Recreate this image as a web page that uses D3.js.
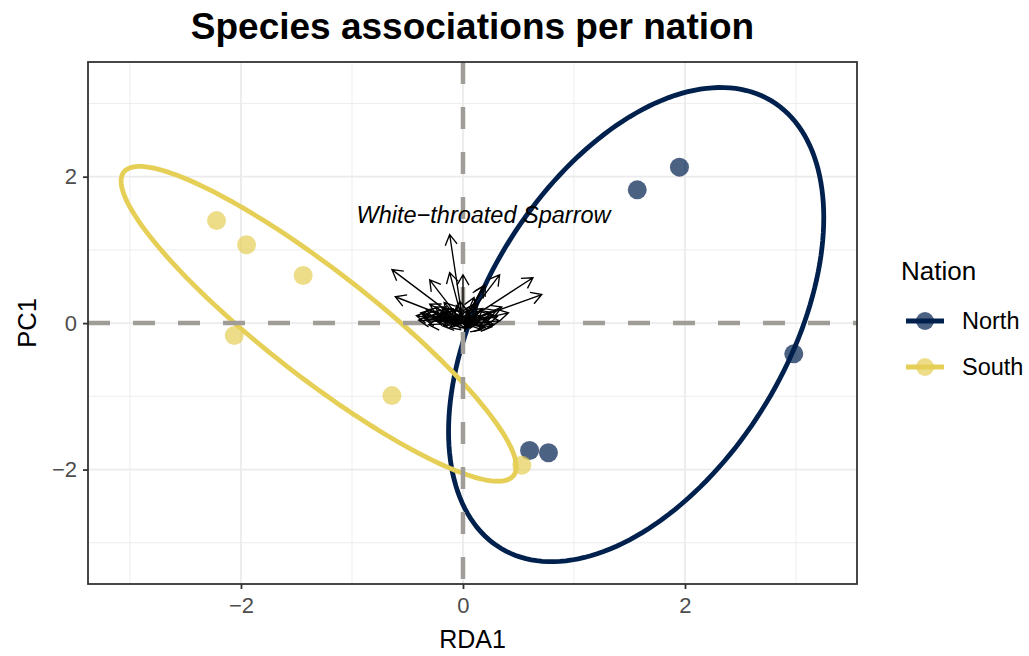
<!DOCTYPE html>
<html>
<head>
<meta charset="utf-8">
<script src="https://cdn.jsdelivr.net/npm/d3@7"></script>
<style>
  body { margin: 0; background: #fff; }
  text { font-family: "Liberation Sans", Arial, sans-serif; }
</style>
</head>
<body>
<div class="chart"></div>
<script>
// site scores
const groups = ['North', 'South'];
const pointGroup = ['North', 'North', 'North', 'North', 'North',
    'South', 'South', 'South', 'South', 'South', 'South'];
const pointX = [1.57, 1.95, 2.98, 0.60, 0.77, -2.22, -1.95, -1.44, -2.06, -0.64, 0.53];
const pointY = [1.82, 2.13, -0.42, -1.74, -1.77, 1.40, 1.07, 0.65, -0.17, -0.99, -1.94];

// ellipse per group: centre + conjugate half-axes
const ellCx = [1.56, -1.30];
const ellCy = [-0.02, -0.01];
const ellA = [1.69, 1.78];
const ellB = [1.46, -1.95];
const ellC = [2.89, 0.905];

// species loadings (arrows from origin)
const loadX = [-0.12, -0.64, -0.61, -0.30, -0.12, 0.00, 0.63, 0.71, 0.33, 0.20, 0.41, 0.18,
    -0.38, -0.35, -0.33, -0.28, -0.25, -0.22, -0.20, -0.17, -0.14, -0.10, -0.08, -0.05,
    -0.03, 0.02, 0.04, 0.07, 0.09, 0.12, 0.15, 0.18, 0.22, 0.25, 0.28, 0.31, 0.35, -0.30,
    0.10, -0.12, 0.20, -0.42,
    -0.40, -0.36, -0.31, -0.26, -0.21, -0.18, -0.15, -0.09, -0.06, 0.03, 0.06, 0.11,
    0.14, 0.17, 0.24, 0.27, 0.30, 0.33, -0.27, -0.23, 0.08, 0.13, -0.19, 0.26];
const loadY = [1.21, 0.73, 0.36, 0.59, 0.69, 0.66, 0.62, 0.39, 0.66, 0.52, 0.14, 0.50,
    0.14, 0.06, 0.18, 0.10, 0.22, 0.03, 0.15, 0.28, 0.08, 0.20, -0.03, 0.12,
    0.30, 0.05, 0.18, -0.05, 0.25, 0.10, 0.02, 0.20, 0.06, 0.15, -0.02, 0.09, 0.22, 0.26,
    0.35, -0.06, -0.06, 0.10,
    0.04, 0.11, -0.02, 0.16, 0.09, -0.04, 0.19, 0.05, 0.24, -0.07, 0.13, -0.03,
    0.16, -0.09, 0.01, 0.11, 0.17, 0.03, 0.07, 0.12, 0.08, 0.27, 0.21, -0.05];

const labelText = ['White\u2212throated Sparrow'];
const labelX = [0.185];
const labelY = [1.48];

const xTicks = [-2, 0, 2];
const yTicks = [-2, 0, 2];
const xMinor = [-3, -1, 1, 3];
const yMinor = [-3, -1, 1, 3];

const colors = { North: '#00204D', South: '#E6CF57' };

const width = 1029;
const height = 656;
const panel = { left: 88, right: 857, top: 62, bottom: 584 };

const svg = d3.select('.chart').append('svg')
    .attr('width', width)
    .attr('height', height)
    .attr('viewBox', `0 0 ${width} ${height}`);

const xScale = d3.scaleLinear().domain([-3.378, 3.5495]).range([panel.left, panel.right]);
const yScale = d3.scaleLinear().domain([-3.563, 3.566]).range([panel.bottom, panel.top]);

/*      grid      */
const grid = svg.append('g');
grid.selectAll('.minx').data(xMinor).enter().append('line')
    .attr('x1', d => xScale(d)).attr('x2', d => xScale(d))
    .attr('y1', panel.top).attr('y2', panel.bottom)
    .attr('stroke', '#EBEBEB').attr('stroke-width', 0.9);
grid.selectAll('.miny').data(yMinor).enter().append('line')
    .attr('y1', d => yScale(d)).attr('y2', d => yScale(d))
    .attr('x1', panel.left).attr('x2', panel.right)
    .attr('stroke', '#EBEBEB').attr('stroke-width', 0.9);
grid.selectAll('.majx').data(xTicks).enter().append('line')
    .attr('x1', d => xScale(d)).attr('x2', d => xScale(d))
    .attr('y1', panel.top).attr('y2', panel.bottom)
    .attr('stroke', '#EBEBEB').attr('stroke-width', 1.8);
grid.selectAll('.majy').data(yTicks).enter().append('line')
    .attr('y1', d => yScale(d)).attr('y2', d => yScale(d))
    .attr('x1', panel.left).attr('x2', panel.right)
    .attr('stroke', '#EBEBEB').attr('stroke-width', 1.8);

const plot = svg.append('g');

/*      ellipses      */
const line = d3.line().x(d => xScale(d[0])).y(d => yScale(d[1])).curve(d3.curveLinearClosed);
groups.forEach((g, i) => {
    const pts = d3.range(0, 2 * Math.PI, Math.PI / 90).map(t => [
        ellCx[i] + ellA[i] * Math.cos(t),
        ellCy[i] + ellB[i] * Math.cos(t) + ellC[i] * Math.sin(t)
    ]);
    plot.append('path')
        .attr('d', line(pts))
        .attr('fill', 'none')
        .attr('stroke', colors[g])
        .attr('stroke-width', 4.8);
});

/*      dashed zero lines      */
plot.append('line')
    .attr('x1', panel.left).attr('x2', panel.right)
    .attr('y1', yScale(0)).attr('y2', yScale(0))
    .attr('stroke', '#A09D98').attr('stroke-width', 4.5)
    .attr('stroke-dasharray', '22 23');
plot.append('line')
    .attr('x1', xScale(0)).attr('x2', xScale(0))
    .attr('y1', panel.top).attr('y2', panel.bottom)
    .attr('stroke', '#A09D98').attr('stroke-width', 4.5)
    .attr('stroke-dasharray', '22 23');

/*      points      */
plot.selectAll('.pt').data(pointX).enter().append('circle')
    .attr('cx', (d, i) => xScale(d))
    .attr('cy', (d, i) => yScale(pointY[i]))
    .attr('r', 9.5)
    .attr('fill', (d, i) => colors[pointGroup[i]])
    .attr('fill-opacity', 0.7);

/*      species arrows      */
const x0 = xScale(0), y0 = yScale(0);
const headLen = 12, headAng = Math.PI / 6;
plot.selectAll('.arrow').data(loadX).enter().append('path')
    .attr('d', (d, i) => {
        const x1 = xScale(d), y1 = yScale(loadY[i]);
        const a = Math.atan2(y1 - y0, x1 - x0);
        const hx1 = x1 - headLen * Math.cos(a - headAng), hy1 = y1 - headLen * Math.sin(a - headAng);
        const hx2 = x1 - headLen * Math.cos(a + headAng), hy2 = y1 - headLen * Math.sin(a + headAng);
        return `M${x0},${y0}L${x1},${y1}M${hx1},${hy1}L${x1},${y1}L${hx2},${hy2}`;
    })
    .attr('fill', 'none')
    .attr('stroke', '#000')
    .attr('stroke-width', 1.35);

plot.selectAll('.lab').data(labelText).enter().append('text')
    .attr('x', (d, i) => xScale(labelX[i]))
    .attr('y', (d, i) => yScale(labelY[i]))
    .attr('dy', '0.35em')
    .attr('text-anchor', 'middle')
    .attr('font-style', 'italic')
    .attr('font-size', 23.5)
    .attr('fill', '#000')
    .text(d => d);

/*      panel border      */
svg.append('rect')
    .attr('x', panel.left).attr('y', panel.top)
    .attr('width', panel.right - panel.left).attr('height', panel.bottom - panel.top)
    .attr('fill', 'none').attr('stroke', '#333333').attr('stroke-width', 1.8);

/*      axes      */
const xAxis = svg.append('g')
    .attr('transform', `translate(0, ${panel.bottom})`)
    .call(d3.axisBottom(xScale).tickValues(xTicks).tickSize(5).tickPadding(6)
        .tickFormat(d => d < 0 ? '\u2212' + Math.abs(d) : d));
const yAxis = svg.append('g')
    .attr('transform', `translate(${panel.left}, 0)`)
    .call(d3.axisLeft(yScale).tickValues(yTicks).tickSize(5).tickPadding(6)
        .tickFormat(d => d < 0 ? '\u2212' + Math.abs(d) : d));
[xAxis, yAxis].forEach(ax => {
    ax.select('.domain').remove();
    ax.selectAll('.tick line').attr('stroke', '#333333').attr('stroke-width', 1.8);
    ax.selectAll('.tick text').attr('fill', '#4D4D4D').attr('font-size', 22)
        .style('font-family', '"Liberation Sans", Arial, sans-serif');
});
xAxis.selectAll('.tick text').attr('dy', '0.82em');

svg.append('text')
    .attr('x', (panel.left + panel.right) / 2).attr('y', 648)
    .attr('text-anchor', 'middle').attr('font-size', 25).attr('fill', '#000')
    .text('RDA1');
svg.append('text')
    .attr('transform', `translate(36, ${(panel.top + panel.bottom) / 2}) rotate(-90)`)
    .attr('text-anchor', 'middle').attr('font-size', 25.5).attr('fill', '#000')
    .text('PC1');

svg.append('text')
    .attr('x', (panel.left + panel.right) / 2).attr('y', 39)
    .attr('text-anchor', 'middle').attr('font-size', 37).attr('font-weight', 'bold')
    .attr('fill', '#000')
    .text('Species associations per nation');

/*      legend      */
const legend = svg.append('g');
legend.append('text')
    .attr('x', 901).attr('y', 280)
    .attr('font-size', 26).attr('fill', '#000')
    .text('Nation');
groups.forEach((g, i) => {
    const ky = 321 + i * 46;
    legend.append('line')
        .attr('x1', 906).attr('x2', 944).attr('y1', ky).attr('y2', ky)
        .attr('stroke', colors[g]).attr('stroke-width', 4.8);
    legend.append('circle')
        .attr('cx', 925).attr('cy', ky).attr('r', 9)
        .attr('fill', colors[g]).attr('fill-opacity', 0.7);
    legend.append('text')
        .attr('x', 962).attr('y', ky).attr('dy', '0.36em')
        .attr('font-size', 23.5).attr('fill', '#000')
        .text(g);
});
</script>
</body>
</html>
